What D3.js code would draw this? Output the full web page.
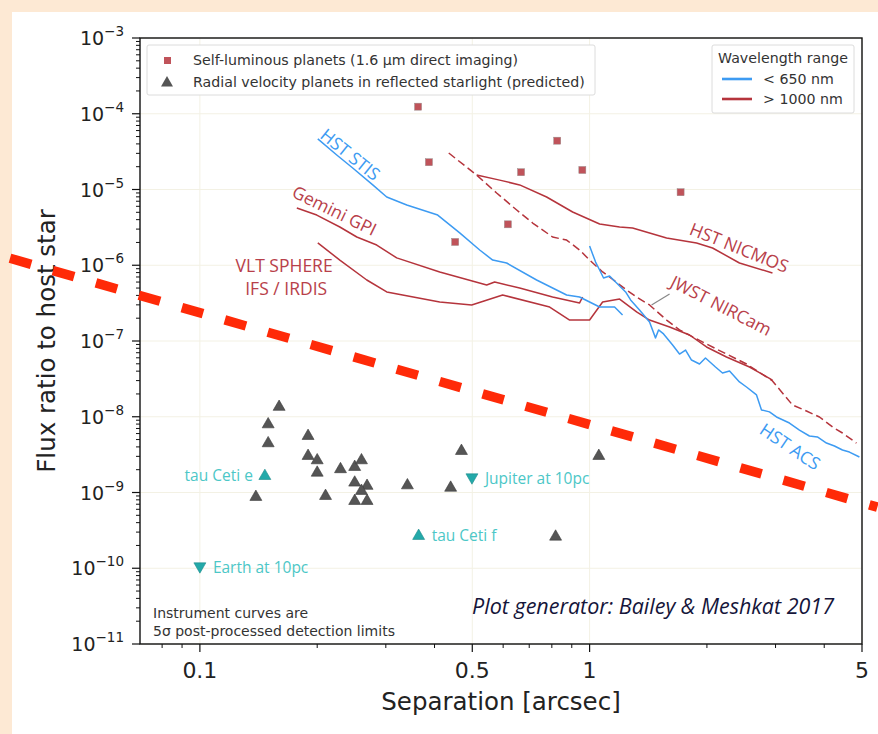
<!DOCTYPE html>
<html><head><meta charset="utf-8">
<script src="https://cdn.jsdelivr.net/npm/d3@7"></script>
<style>body{margin:0;background:#fde9d4;} svg{display:block}</style>
</head><body>
<svg id="c" width="878" height="734"></svg>
<script>
// ---------- data ----------
const xTickVals = [0.1, 0.5, 1, 5];
const xTickLabels = ["0.1", "0.5", "1", "5"];
const yTickExps = [-3, -4, -5, -6, -7, -8, -9, -10, -11];

const selfLumSep  = [0.363, 0.387, 0.452, 0.617, 0.667, 0.826, 0.958, 1.712];
const selfLumFlux = [1.24e-4, 2.29e-5, 2.03e-6, 3.47e-6, 1.69e-5, 4.41e-5, 1.81e-5, 9.2e-6];

const rvSep  = [0.1597, 0.1497, 0.1497, 0.1895, 0.1895, 0.200, 0.200, 0.1392, 0.2101, 0.2295, 0.2496, 0.2598, 0.2496, 0.2685, 0.2598, 0.2496, 0.2685, 0.469, 0.3408, 0.440, 1.056, 0.818];
const rvFlux = [1.39e-8, 8.18e-9, 4.6e-9, 5.74e-9, 3.13e-9, 2.74e-9, 1.88e-9, 9.0e-10, 9.27e-10, 2.09e-9, 2.24e-9, 2.74e-9, 1.39e-9, 1.26e-9, 1.08e-9, 7.96e-10, 7.96e-10, 3.64e-9, 1.28e-9, 1.19e-9, 3.13e-9, 2.69e-10];

const refNames  = ["tau Ceti e", "tau Ceti f", "Jupiter at 10pc", "Earth at 10pc"];
const refSep    = [0.1468, 0.3642, 0.499, 0.1];
const refFlux   = [1.70e-9, 2.75e-10, 1.54e-9, 1.03e-10];
const refShape  = ["up", "up", "down", "down"];
const refSide   = ["left", "right", "right", "right"];

const stisSep  = [0.2007, 0.2245, 0.2467, 0.2777, 0.3016, 0.3395, 0.4076, 0.4642, 0.5224, 0.5641, 0.6126, 0.7312, 0.8730, 0.9427, 1.061, 1.159, 1.215];
const stisFlux = [4.65e-5, 2.85e-5, 1.92e-5, 1.15e-5, 7.96e-6, 6.24e-6, 4.60e-6, 2.67e-6, 1.59e-6, 1.17e-6, 1.07e-6, 6.39e-7, 4.05e-7, 3.81e-7, 2.81e-7, 2.81e-7, 2.20e-7];

const acsSep  = [1.000, 1.036, 1.061, 1.086, 1.125, 1.173, 1.237, 1.274, 1.343, 1.425, 1.476, 1.503, 1.548, 1.633, 1.701, 1.763, 1.826, 1.914, 1.983, 2.104, 2.193, 2.286, 2.424, 2.527, 2.681, 2.761, 2.894, 3.017, 3.257, 3.455, 3.665, 3.842, 4.053, 4.249, 4.455, 4.642, 4.924];
const acsFlux = [1.80e-6, 1.10e-6, 8.65e-7, 6.79e-7, 7.21e-7, 5.83e-7, 4.44e-7, 3.48e-7, 2.57e-7, 1.78e-7, 1.10e-7, 1.40e-7, 1.24e-7, 8.85e-8, 6.73e-8, 7.60e-8, 5.61e-8, 4.97e-8, 5.97e-8, 4.54e-8, 3.78e-8, 4.02e-8, 2.88e-8, 2.47e-8, 1.94e-8, 1.23e-8, 1.16e-8, 9.93e-9, 8.26e-9, 6.68e-9, 5.57e-9, 5.41e-9, 4.50e-9, 4.11e-9, 3.64e-9, 3.42e-9, 2.94e-9];

const nicmosSep  = [0.5131, 0.5878, 0.6615, 0.7757, 0.9046, 1.061, 1.194, 1.289, 1.576, 1.881, 2.068, 2.424, 2.946];
const nicmosFlux = [1.55e-5, 1.33e-5, 1.15e-5, 7.96e-6, 5.05e-6, 3.51e-6, 3.20e-6, 3.10e-6, 2.29e-6, 1.97e-6, 1.69e-6, 1.07e-6, 7.91e-7];

const nircamSep  = [0.4351, 0.5131, 0.5774, 0.6500, 0.7144, 0.8036, 0.8730, 0.9427, 1.000, 1.080, 1.125, 1.244, 1.320, 1.425, 1.576, 1.701, 1.995, 2.527, 2.946, 3.316, 3.601, 3.889, 4.200, 4.455, 4.838];
const nircamFlux = [3.03e-5, 1.55e-5, 9.0e-6, 5.36e-6, 3.61e-6, 2.36e-6, 2.15e-6, 1.59e-6, 1.17e-6, 8.15e-7, 7.00e-7, 4.71e-7, 3.81e-7, 2.99e-7, 1.89e-7, 1.40e-7, 9.12e-8, 4.97e-8, 2.97e-8, 1.43e-8, 1.19e-8, 9.93e-9, 7.33e-9, 6.10e-9, 4.50e-9];

const gpiSep  = [0.1773, 0.1995, 0.2286, 0.2527, 0.2843, 0.3199, 0.4125, 0.5444, 0.5707, 0.6615, 0.8036, 0.9427, 0.9596];
const gpiFlux = [5.70e-6, 4.60e-6, 3.20e-6, 2.36e-6, 1.85e-6, 1.25e-6, 8.15e-7, 5.48e-7, 6.01e-7, 5.01e-7, 3.81e-7, 3.18e-7, 3.81e-7];

const sphereSep  = [0.2007, 0.2286, 0.2681, 0.3016, 0.4125, 0.4982, 0.5982, 0.7899, 0.8888, 1.000, 1.080, 1.194, 1.320, 1.425, 1.604, 1.805, 1.995, 2.245, 2.572, 2.946];
const sphereFlux = [1.97e-6, 1.17e-6, 6.39e-7, 4.44e-7, 3.27e-7, 2.99e-7, 4.05e-7, 2.81e-7, 1.89e-7, 1.89e-7, 3.27e-7, 3.58e-7, 2.42e-7, 1.89e-7, 1.53e-7, 1.20e-7, 8.34e-8, 6.15e-8, 4.54e-8, 3.05e-8];

const trendSep  = [0.0307, 5.475];
const trendFlux = [1.35e-6, 6.41e-10];

// ---------- setup ----------
const W = 878, H = 734;
const L = 140, R = 862, T = 38, B = 644;
const svg = d3.select("#c");
const x = d3.scaleLog().domain([0.0702, 5]).range([L, R]);
const y = d3.scaleLog().domain([1e-11, 1e-3]).range([B, T]);
const BLUE = "#3d9bf2", RED = "#b5343c", REDTXT = "#b8404a";
const TEAL = "#23a9a9", TEALTXT = "#4cc7c7";
const AX = "DejaVu Sans, sans-serif", ANN = "'Open Sans', 'Noto Sans', sans-serif";

svg.append("rect").attr("width", W).attr("height", H).attr("fill", "#fde9d4");
svg.append("rect").attr("x", 12).attr("y", 12).attr("width", W - 12).attr("height", H - 12).attr("fill", "#fff");

svg.append("defs").append("clipPath").attr("id", "clip")
  .append("rect").attr("x", L).attr("y", T).attr("width", R - L).attr("height", B - T);

// grid
const grid = svg.append("g");
yTickExps.forEach(e => grid.append("line").attr("x1", L).attr("x2", R)
  .attr("y1", y(Math.pow(10, e))).attr("y2", y(Math.pow(10, e)))
  .attr("stroke", "#f3f1e4").attr("stroke-width", 1));
xTickVals.forEach(v => grid.append("line").attr("y1", T).attr("y2", B)
  .attr("x1", x(v)).attr("x2", x(v)).attr("stroke", "#f3f1e4").attr("stroke-width", 1));

// curves
const plot = svg.append("g").attr("clip-path", "url(#clip)");
const line = d3.line().x(d => x(d[0])).y(d => y(d[1]));
function curve(sep, flux, color, dash) {
  plot.append("path").datum(d3.zip(sep, flux)).attr("d", line)
    .attr("fill", "none").attr("stroke", color).attr("stroke-width", 1.5)
    .attr("stroke-linejoin", "round").attr("stroke-dasharray", dash || null);
}
curve(gpiSep, gpiFlux, RED);
curve(sphereSep, sphereFlux, RED);
curve(nicmosSep, nicmosFlux, RED);
curve(nircamSep, nircamFlux, RED, "8,4");
curve(stisSep, stisFlux, BLUE);
curve(acsSep, acsFlux, BLUE);

// markers
const tri = d3.symbol().type(d3.symbolTriangle).size(62);
plot.selectAll(".rv").data(d3.zip(rvSep, rvFlux)).join("path")
  .attr("d", tri).attr("transform", d => `translate(${x(d[0])},${y(d[1]) + 1})`)
  .attr("fill", "#555").attr("stroke", "#3a3a3a").attr("stroke-width", 0.6);
plot.selectAll(".sl").data(d3.zip(selfLumSep, selfLumFlux)).join("rect")
  .attr("x", d => x(d[0]) - 3.5).attr("y", d => y(d[1]) - 3.5).attr("width", 7).attr("height", 7)
  .attr("fill", "#c0535a").attr("stroke", "#9a8a8a").attr("stroke-width", 0.5);

refNames.forEach((n, i) => {
  const px = x(refSep[i]), py = y(refFlux[i]);
  plot.append("path").attr("d", tri)
    .attr("transform", `translate(${px},${py + (refShape[i] === "up" ? 1 : -1)}) rotate(${refShape[i] === "up" ? 0 : 180})`)
    .attr("fill", TEAL).attr("stroke", "#1b8a8a").attr("stroke-width", 0.6);
  svg.append("text").attr("x", refSide[i] === "left" ? px - 12 : px + 13).attr("y", py)
    .attr("dominant-baseline", "central").attr("text-anchor", refSide[i] === "left" ? "end" : "start")
    .attr("font-family", ANN).attr("font-size", 15.5).attr("fill", TEALTXT).text(n);
});

// curve labels
function lab(txt, sep, flux, ang, color, size) {
  svg.append("text").attr("transform", `translate(${x(sep)},${y(flux)}) rotate(${ang})`)
    .attr("text-anchor", "middle").attr("dominant-baseline", "central")
    .attr("font-family", ANN).attr("font-size", size || 17.5).attr("fill", color).text(txt);
}
lab("HST STIS", 0.2439, 2.94e-5, 39, BLUE);
lab("Gemini GPI", 0.2219, 5.36e-6, 26, REDTXT);
lab("HST NICMOS", 2.424, 1.74e-6, 22, REDTXT);
lab("JWST NIRCam", 2.18, 2.99e-7, 27, REDTXT);
lab("HST ACS", 3.277, 4.11e-9, 34, BLUE);
lab("VLT SPHERE", 0.1645, 1.02e-6, 0, REDTXT);
lab("IFS / IRDIS", 0.1665, 5.0e-7, 0, REDTXT);
svg.append("line").attr("x1", x(1.442)).attr("y1", y(2.99e-7)).attr("x2", x(1.604)).attr("y2", y(4.17e-7))
  .attr("stroke", "#888").attr("stroke-width", 1.2);

// notes
svg.append("text").attr("x", 153).attr("y", 618).attr("font-family", AX).attr("font-size", 14)
  .attr("fill", "#333").text("Instrument curves are");
svg.append("text").attr("x", 153).attr("y", 636).attr("font-family", AX).attr("font-size", 14)
  .attr("fill", "#333").text("5σ post-processed detection limits");
svg.append("text").attr("x", 834).attr("y", 614).attr("text-anchor", "end").attr("font-family", ANN)
  .attr("font-style", "italic").attr("font-size", 21.5).attr("fill", "#15153a")
  .text("Plot generator: Bailey & Meshkat 2017");

// legend 1
const lg1 = svg.append("g");
lg1.append("rect").attr("x", 147).attr("y", 45).attr("width", 448).attr("height", 50).attr("rx", 2)
  .attr("fill", "#fff").attr("stroke", "#dcdcdc");
lg1.append("rect").attr("x", 164).attr("y", 57).attr("width", 7).attr("height", 7).attr("fill", "#c0535a");
lg1.append("path").attr("d", tri).attr("transform", "translate(167,83)").attr("fill", "#555");
lg1.append("text").attr("x", 193).attr("y", 60).attr("dominant-baseline", "central").attr("font-family", AX)
  .attr("font-size", 14.2).attr("fill", "#333").text("Self-luminous planets (1.6 µm direct imaging)");
lg1.append("text").attr("x", 193).attr("y", 82).attr("dominant-baseline", "central").attr("font-family", AX)
  .attr("font-size", 14.2).attr("fill", "#333").text("Radial velocity planets in reflected starlight (predicted)");

// legend 2
const lg2 = svg.append("g");
lg2.append("rect").attr("x", 712).attr("y", 45).attr("width", 142).attr("height", 68).attr("rx", 2)
  .attr("fill", "#fff").attr("stroke", "#dcdcdc");
lg2.append("text").attr("x", 783).attr("y", 58).attr("text-anchor", "middle").attr("dominant-baseline", "central")
  .attr("font-family", AX).attr("font-size", 14.2).attr("fill", "#333").text("Wavelength range");
[["< 650 nm", BLUE, 79], ["> 1000 nm", RED, 99]].forEach(d => {
  lg2.append("line").attr("x1", 722).attr("x2", 752).attr("y1", d[2]).attr("y2", d[2])
    .attr("stroke", d[1]).attr("stroke-width", 2.6);
  lg2.append("text").attr("x", 763).attr("y", d[2]).attr("dominant-baseline", "central")
    .attr("font-family", AX).attr("font-size", 14.2).attr("fill", "#333").text(d[0]);
});

// axes
const ax = svg.append("g");
ax.append("rect").attr("x", L).attr("y", T).attr("width", R - L).attr("height", B - T)
  .attr("fill", "none").attr("stroke", "#111").attr("stroke-width", 1.4);
const xMinor = [0.08, 0.09, 0.2, 0.3, 0.4, 0.6, 0.7, 0.8, 0.9, 2, 3, 4];
xMinor.forEach(v => ax.append("line").attr("x1", x(v)).attr("x2", x(v)).attr("y1", B).attr("y2", B + 4)
  .attr("stroke", "#111").attr("stroke-width", 1));
xTickVals.forEach((v, i) => {
  ax.append("line").attr("x1", x(v)).attr("x2", x(v)).attr("y1", B).attr("y2", B + 8)
    .attr("stroke", "#111").attr("stroke-width", 1.2);
  ax.append("text").attr("x", x(v)).attr("y", 678).attr("text-anchor", "middle")
    .attr("font-family", AX).attr("font-size", 22).attr("fill", "#222").text(xTickLabels[i]);
});
yTickExps.forEach(e => {
  const base = Math.pow(10, e);
  ax.append("line").attr("x1", L - 8).attr("x2", L).attr("y1", y(base)).attr("y2", y(base))
    .attr("stroke", "#111").attr("stroke-width", 1.2);
  if (e > -11) for (let k = 2; k <= 9; k++) {
    ax.append("line").attr("x1", L - 4).attr("x2", L).attr("y1", y(base * k / 10)).attr("y2", y(base * k / 10))
      .attr("stroke", "#111").attr("stroke-width", 1);
  }
  const t = ax.append("text").attr("x", 124).attr("y", y(base) + 7).attr("text-anchor", "end")
    .attr("font-family", AX).attr("font-size", 19).attr("fill", "#222");
  t.append("tspan").text("10");
  t.append("tspan").attr("dy", -9).attr("font-size", 13.5).text("−" + Math.abs(e));
});
ax.append("text").attr("x", (L + R) / 2).attr("y", 710).attr("text-anchor", "middle")
  .attr("font-family", AX).attr("font-size", 24.5).attr("fill", "#222").text("Separation [arcsec]");
ax.append("text").attr("transform", `translate(55,${(T + B) / 2}) rotate(-90)`).attr("text-anchor", "middle")
  .attr("font-family", AX).attr("font-size", 24.5).attr("fill", "#222").text("Flux ratio to host star");

// thick red dashed trend line (overlay)
svg.append("path").datum(d3.zip(trendSep, trendFlux)).attr("d", line)
  .attr("fill", "none").attr("stroke", "#ff2a08").attr("stroke-width", 9.5)
  .attr("stroke-dasharray", "22,22.7").attr("stroke-dashoffset", 34.3);
</script>
</body></html>
